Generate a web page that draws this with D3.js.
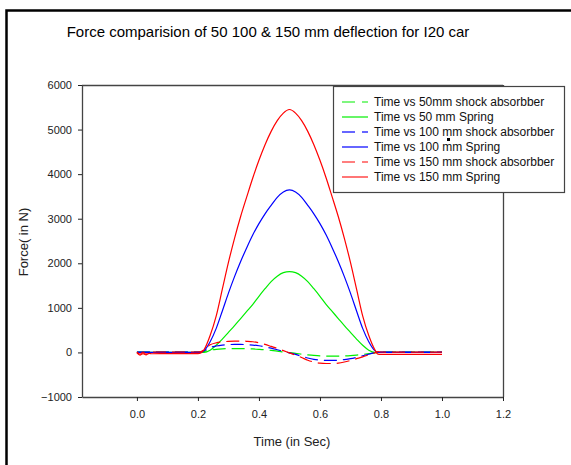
<!DOCTYPE html>
<html><head><meta charset="utf-8">
<script src="https://cdn.jsdelivr.net/npm/d3@7"></script>
<style>body{margin:0;background:#fff;}svg{display:block;font-family:Arial,"Liberation Sans",sans-serif;}</style>
</head><body><svg id="c" width="571" height="465"></svg>
<script>
const titleText = "Force comparision of 50 100 & 150 mm deflection for I20 car";
const xTitle = "Time (in Sec)";
const yTitle = "Force( in N)";
const xTicks = [0.0, 0.2, 0.4, 0.6, 0.8, 1.0, 1.2];
const yTicks = [-1000, 0, 1000, 2000, 3000, 4000, 5000, 6000];
const seriesNames = ["Time vs 50mm shock absorbber","Time vs 50 mm Spring","Time vs 100 mm shock absorbber","Time vs 100 mm Spring","Time vs 150 mm shock absorbber","Time vs 150 mm Spring"];
const seriesColors = ["#00ee00","#00ee00","#0000ff","#0000ff","#ff0000","#ff0000"];
const seriesDashed = [true,false,true,false,true,false];

const time = [0,0.01,0.02,0.03,0.04,0.05,0.10,0.15,0.20,0.21,
  0.22,0.24,0.26,0.28,0.30,0.32,0.34,0.36,0.38,0.40,0.42,0.44,0.46,0.48,0.50,
  0.52,0.54,0.56,0.58,0.60,0.62,0.64,0.66,0.68,0.70,0.72,0.74,0.76,0.78,
  0.79,0.80,0.85,0.90,0.95,1.00];

const shock50 = [10,10,10,10,10,10,10,10,10,10,
  20,50,70,80,85,85,85,82,78,70,60,45,30,12,-5,
  -20,-40,-55,-68,-78,-82,-85,-85,-80,-72,-60,-45,-28,-10,
  0,5,5,5,5,5];
const spring50 = [0,0,0,0,0,0,0,0,0,0,
  0,50,160,300,450,600,760,920,1080,1260,1430,1590,1710,1790,1815,
  1790,1710,1590,1430,1260,1080,920,760,600,450,300,160,50,0,
  0,0,0,0,0,0];
const shock100 = [10,10,10,10,10,10,10,10,10,15,
  40,110,145,165,175,180,180,175,165,150,125,95,60,25,-10,
  -45,-85,-125,-155,-172,-180,-180,-175,-160,-140,-110,-75,-40,-5,
  5,5,5,5,5,5];
const spring100 = [0,0,0,0,0,0,0,0,0,0,
  40,240,540,930,1330,1700,2040,2350,2640,2890,3110,3300,3480,3600,3645,
  3600,3480,3300,3110,2890,2640,2350,2040,1700,1330,930,540,240,40,
  0,0,0,0,0,0];
const shock150 = [10,-40,10,-40,10,10,10,10,10,20,
  60,170,215,235,250,255,255,250,240,215,180,135,90,40,-10,
  -60,-115,-175,-215,-240,-248,-248,-240,-215,-180,-140,-100,-55,-10,
  20,10,5,5,5,5];
const spring150 = [-10,-60,-25,-55,-20,-30,-25,-25,-25,-10,
  60,380,820,1420,2020,2560,3050,3490,3920,4310,4660,4960,5200,5370,5450,
  5370,5200,4960,4660,4310,3920,3490,3050,2560,2020,1420,820,380,60,
  -40,-45,-45,-45,-45,-45];
const seriesValues = [shock50, spring50, shock100, spring100, shock150, spring150];

const svg = d3.select("#c");
const L = 82, R = 503, T = 85, B = 397;
const x = d3.scaleLinear().domain([-0.18, 1.2]).range([L, R]);
const y = d3.scaleLinear().domain([-1000, 6000]).range([B, T]);

// outer frame
svg.append("rect").attr("x",6.5).attr("y",10.5).attr("width",600).attr("height",500)
  .attr("fill","none").attr("stroke","#000").attr("stroke-width",2.5);

svg.append("text").attr("x",268).attr("y",37).attr("text-anchor","middle")
  .attr("font-size","15px").attr("fill","#000").text(titleText);

// plot frame
const axisColor = "#444";
svg.append("line").attr("x1",L).attr("x2",R).attr("y1",T+0.5).attr("y2",T+0.5).attr("stroke",axisColor).attr("stroke-width",1.3);
svg.append("line").attr("x1",R+0.5).attr("x2",R+0.5).attr("y1",T).attr("y2",B).attr("stroke",axisColor).attr("stroke-width",1.3);

const yAxis = svg.append("g").attr("transform",`translate(${L},0)`)
  .call(d3.axisLeft(y).tickValues(yTicks).tickSize(4).tickSizeOuter(0).tickPadding(6).tickFormat(d3.format("d")));
const xAxis = svg.append("g").attr("transform",`translate(0,${B})`)
  .call(d3.axisBottom(x).tickValues(xTicks).tickSize(4).tickSizeOuter(0).tickPadding(9).tickFormat(d3.format(".1f")));
[yAxis, xAxis].forEach(g => {
  g.select(".domain").attr("stroke",axisColor).attr("stroke-width",1.3);
  g.selectAll(".tick line").attr("stroke","#222");
  g.selectAll(".tick text").attr("font-size","11px").attr("fill","#222").attr("font-family","Arial, 'Liberation Sans', sans-serif");
});

svg.append("text").attr("transform","translate(28,242) rotate(-90)").attr("text-anchor","middle")
  .attr("font-size","13px").attr("fill","#222").text(yTitle);
svg.append("text").attr("x",292).attr("y",446).attr("text-anchor","middle")
  .attr("font-size","13px").attr("fill","#222").text(xTitle);

// series
const line = d3.line().x((d,i)=>x(time[i])).y(d=>y(d)).curve(d3.curveMonotoneX);
seriesValues.forEach((vals,k)=>{
  svg.append("path").datum(vals).attr("d",line).attr("fill","none")
    .attr("stroke",seriesColors[k]).attr("stroke-width",1.2)
    .attr("stroke-dasharray",seriesDashed[k]?"13,6":null);
});

// legend
const lg = svg.append("g");
lg.append("rect").attr("x",333.5).attr("y",86.5).attr("width",231).attr("height",106)
  .attr("fill","#fff").attr("stroke","#444").attr("stroke-width",1.2);
seriesNames.forEach((n,k)=>{
  const yy = 102 + k*15;
  lg.append("line").attr("x1",342).attr("x2",368).attr("y1",yy).attr("y2",yy)
    .attr("stroke",seriesColors[k]).attr("stroke-width",k===2||k===5?1.8:1.2)
    .attr("stroke-dasharray",seriesDashed[k]?"13,7":null).attr("stroke-opacity",k===2||k===5?0.6:1);
  lg.append("text").attr("x",374).attr("y",yy+4).attr("font-size","12px").attr("fill","#111").text(n);
});
svg.append("rect").attr("x",447).attr("y",138).attr("width",3).attr("height",3).attr("fill","#000");
</script></body></html>
